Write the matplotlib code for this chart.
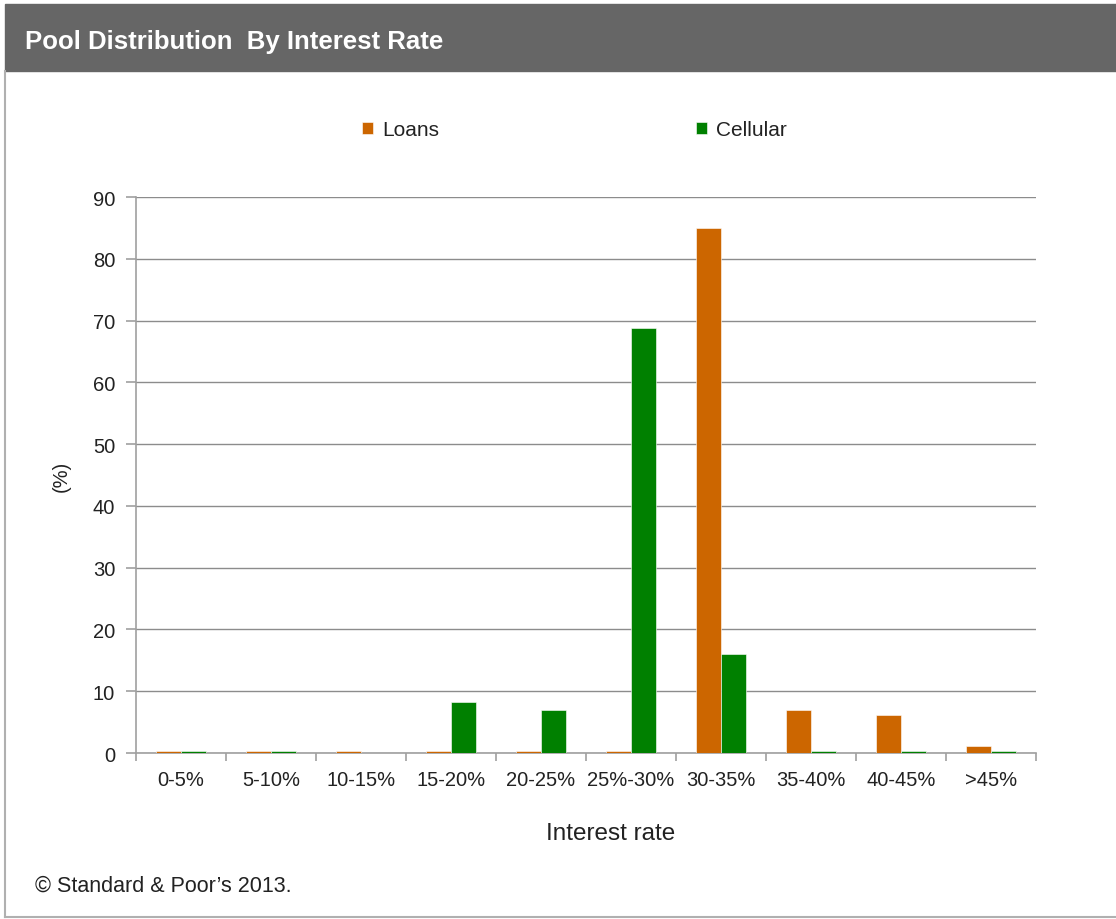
import matplotlib
matplotlib.use('agg')
import matplotlib.pyplot as plt
from matplotlib.patches import Rectangle
import numpy as np

plt.rcParams['font.family'] = ['Liberation Sans', 'DejaVu Sans']

# pool distribution (%) by interest rate bucket
buckets  = ['0-5%', '5-10%', '10-15%', '15-20%', '20-25%', '25%-30%',
            '30-35%', '35-40%', '40-45%', '>45%']
loans    = [0.4, 0.4, 0.4, 0.4, 0.4, 0.4, 85.0, 6.9, 6.2, 1.1]
cellular = [0.4, 0.4, 0.0, 8.2, 6.9, 68.8, 16.0, 0.4, 0.4, 0.4]
yticks   = [0, 10, 20, 30, 40, 50, 60, 70, 80, 90]

orange = '#cc6600'
green  = '#008000'
grey   = '#a0a0a0'
txt    = '#222222'

fig = plt.figure(figsize=(11.16, 9.2), dpi=100)

# header band and frame
fig.patches.append(Rectangle((5/1116, 1-72/920), 1-5/1116, 67/920,
                             transform=fig.transFigure, color='#666666', zorder=0))
fig.add_artist(plt.Line2D([5/1116, 5/1116], [1-72/920, 1-918/920],
                          transform=fig.transFigure, color='#b0b0b0', lw=1.5))
fig.add_artist(plt.Line2D([5/1116, 1], [1-918/920, 1-918/920],
                          transform=fig.transFigure, color='#b0b0b0', lw=1.5))
fig.text(25/1116, 1-42/920, 'Pool Distribution  By Interest Rate', color='white',
         fontsize=18.5, fontweight='bold', va='center', ha='left')

ax = fig.add_axes([136/1116, 1-754/920, 900/1116, 556/920])
x = np.arange(len(buckets))
w = 0.28
ax.bar(x - w/2, loans, w, color=orange, edgecolor='white', linewidth=0.4, label='Loans', zorder=3)
ax.bar(x + w/2, cellular, w, color=green, edgecolor='white', linewidth=0.4, label='Cellular', zorder=3)

ax.set_xlim(-0.5, len(buckets) - 0.5)
ax.set_ylim(0, 90)
ax.set_yticks(yticks)
ax.yaxis.grid(True, color='#8c8c8c', lw=1.0, zorder=0)
ax.set_xticks(x)
ax.set_xticklabels(buckets)
ax.set_xticks(np.arange(-0.5, len(buckets)), minor=True)
ax.tick_params(axis='x', which='major', length=0, pad=12, labelsize=14.5, colors=txt)
ax.tick_params(axis='x', which='minor', length=6, color=grey, width=1.2)
ax.tick_params(axis='y', length=7, color=grey, width=1.2, labelsize=14.5, colors=txt, pad=8)
for s in ['top', 'right']:
    ax.spines[s].set_visible(False)
ax.spines['left'].set_color(grey)
ax.spines['bottom'].set_color(grey)
ax.spines['left'].set_linewidth(1.2)
ax.spines['bottom'].set_linewidth(1.2)

ax.set_xlabel('Interest rate', fontsize=17.5, color=txt, labelpad=18)
ax.xaxis.set_label_coords(0.527, -0.125)
ax.set_ylabel('(%)', fontsize=14.5, color=txt, labelpad=16)

# legend entries spread across the top
for handle, xpos in [(ax.containers[0], 362), (ax.containers[1], 696)]:
    fig.legend(handles=[handle], loc='center left', bbox_to_anchor=(xpos/1116, 1-131/920),
               frameon=False, fontsize=15, handlelength=0.55, handleheight=0.55,
               handletextpad=0.4, borderaxespad=0, borderpad=0, labelcolor=txt)

fig.text(35/1116, 1-886/920, '\u00a9 Standard & Poor\u2019s 2013.', fontsize=15.5,
         color=txt, va='center', ha='left')

fig.savefig('out.png', dpi=100)
